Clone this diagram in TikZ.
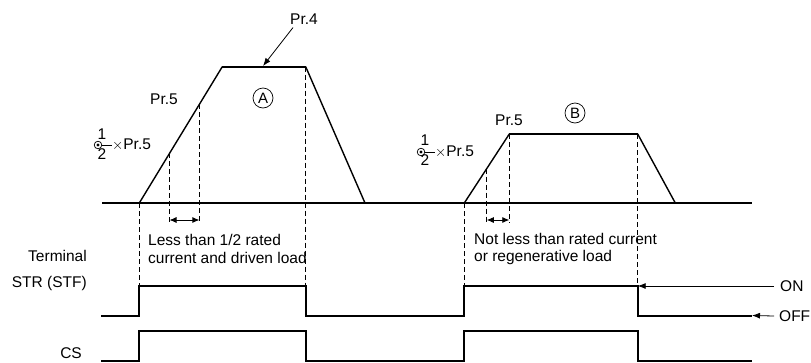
\documentclass[tikz,border=0pt]{standalone}
\usepackage{fontspec}
\setmainfont{Liberation Sans}
\usetikzlibrary{arrows.meta,positioning,calc}
\definecolor{inkBlack}{RGB}{0,0,0}

\tikzset{
  lbl/.style={inner sep=0pt, text=inkBlack, font=\fontsize{15.5pt}{17.7pt}\selectfont},
  circled/.style={draw=inkBlack, circle, line width=0.7pt, inner sep=0pt, minimum size=20pt, font=\fontsize{15pt}{17pt}\selectfont},
  sig/.style={draw=inkBlack, line width=2pt},
  ramp/.style={draw=inkBlack, line width=1.4pt},
  guide/.style={draw=inkBlack, line width=0.9pt, dash pattern=on 5pt off 3pt},
  ptr/.style={draw=inkBlack, line width=0.8pt, -{Latex[length=8pt,width=6pt]}},
  span/.style={draw=inkBlack, line width=0.8pt, {Latex[length=7pt,width=6pt]}-{Latex[length=7pt,width=6pt]}}
}

\begin{document}
\begin{tikzpicture}[x=1pt,y=-1pt]
  \useasboundingbox (0,0) rectangle (811,362);

  % speed pattern
  \coordinate (a0) at (139.3,203);
  \coordinate (a1) at (222.3,66.7);
  \coordinate (a2) at (305.7,66.7);
  \coordinate (a3) at (365,203);
  \coordinate (b0) at (464.3,203);
  \coordinate (b1) at (509.3,134);
  \coordinate (b2) at (637.7,134);
  \coordinate (b3) at (675.3,203);
  \coordinate (tickLo) at (0,223);
  \coordinate (spanY) at (0,220);
  \coordinate (strHi) at (0,286);

  \draw[sig] (102,203) -- (752,203);
  \draw[ramp] (a0) -- (a1) (a2) -- (a3);
  \draw[sig] (a1) -- (a2);
  \draw[ramp] (b0) -- (b1) (b2) -- (b3);
  \draw[sig] (b1) -- (b2);

  % guide lines
  \coordinate (dA1) at ($(a0)!0.364!(a1)$);
  \coordinate (dA2) at ($(a0)!0.724!(a1)$);
  \coordinate (dB1) at ($(b0)!0.5!(b1)$);
  \draw[guide] (a0) -- (a0 |- strHi);
  \draw[guide] (a2) -- (a2 |- strHi);
  \draw[guide] (b0) -- (b0 |- strHi);
  \draw[guide] (b2) -- (b2 |- strHi);
  \draw[guide] (dA1) -- (dA1 |- tickLo);
  \draw[guide] (dA2) -- (dA2 |- tickLo);
  \draw[guide] (dB1) -- (dB1 |- tickLo);
  \draw[guide] (b1) -- (b1 |- tickLo);
  \draw[span] (dA1 |- spanY) -- (dA2 |- spanY);
  \draw[span] (dB1 |- spanY) -- (b1 |- spanY);

  % labels on the pattern
  \node[lbl] (pr4) at (304,19) {Pr.4};
  \coordinate (pr4Tip) at (263,66);
  \draw[ptr] ([shift={(3,3)}]pr4.south west) -- (pr4Tip);
  \node[lbl] (pr5A) at (164,99) {Pr.5};
  \node[lbl] (pr5B) at (509,120) {Pr.5};
  \node[circled] (cirA) at (263,98) {A};
  \node[circled] (cirB) at (575,113) {B};

  \node[lbl, anchor=west] (halfA) at (112,145) {$\times$Pr.5};
  \node[lbl] (numA) at (102,134) {1};
  \node[lbl] (denA) at (102,154) {2};
  \draw[inkBlack, line width=0.7pt] (98,145) circle (3.8);
  \fill[inkBlack] (98,145) circle (1.6);
  \draw[inkBlack, line width=0.7pt] (101.8,145) -- (halfA.west);

  \node[lbl, anchor=west] (halfB) at (435,152) {$\times$Pr.5};
  \node[lbl] (numB) at (425,140) {1};
  \node[lbl] (denB) at (425,160) {2};
  \draw[inkBlack, line width=0.7pt] (421,152) circle (3.8);
  \fill[inkBlack] (421,152) circle (1.6);
  \draw[inkBlack, line width=0.7pt] (424.8,152) -- (halfB.west);

  \node[lbl, anchor=west, align=left] (noteA) at (148,249) {Less than 1/2 rated\\current and driven load};
  \node[lbl, anchor=west, align=left] (noteB) at (474,249) {Not less than rated current\\or regenerative load};

  % signals
  \node[lbl, anchor=east] (term) at (87,256) {Terminal};
  \node[lbl, anchor=east] (str) at (87,283) {STR (STF)};
  \node[lbl, anchor=base east] (cs) at (82,358.5) {CS};

  \draw[sig] (101,315.5) -- (139.3,315.5) -- (139.3,286) -- (305.7,286) -- (305.7,315.5)
    -- (464.3,315.5) -- (464.3,286) -- (637.7,286) -- (637.7,315.5) -- (752,315.5);
  \draw[sig] (101,360.5) -- (139.3,360.5) -- (139.3,331) -- (305.7,331) -- (305.7,360.5)
    -- (464.3,360.5) -- (464.3,331) -- (637.7,331) -- (637.7,360.5) -- (752,360.5);

  \node[lbl, anchor=west] (on) at (780,286) {ON};
  \node[lbl, anchor=west] (off) at (779,316) {OFF};
  \coordinate (onTip) at (637.7,286);
  \coordinate (offTip) at (752,315.5);
  \draw[ptr] ([xshift=-6]on.west) -- (onTip);
  \draw[ptr] ([xshift=-5]off.west) -- (offTip);
\end{tikzpicture}
\end{document}
